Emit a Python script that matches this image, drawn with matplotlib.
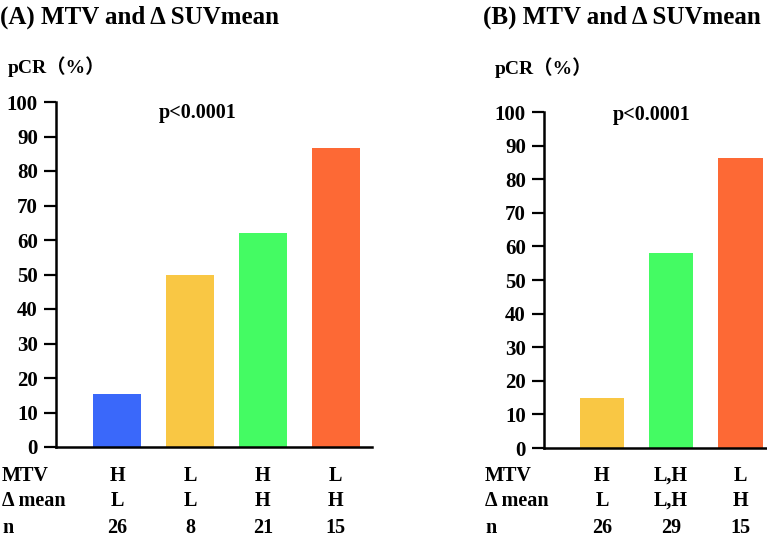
import matplotlib
matplotlib.use("Agg")
import matplotlib.pyplot as plt
import matplotlib.transforms as mtransforms

plt.rcParams['font.family'] = ['Liberation Serif', 'DejaVu Serif']
plt.rcParams['font.weight'] = 'bold'

# Panel A data
a_values = [15.4, 50.0, 61.9, 86.7]
a_colors = ['#3A68FA', '#F9C744', '#44FB63', '#FD6935']
a_mtv = ['H', 'L', 'H', 'L']
a_delta = ['L', 'L', 'H', 'H']
a_n = ['26', '8', '21', '15']

# Panel B data
b_values = [15.0, 58.0, 86.2]
b_colors = ['#F9C744', '#44FB63', '#FD6935']
b_mtv = ['H', 'L,H', 'L']
b_delta = ['L', 'L,H', 'H']
b_n = ['26', '29', '15']

yticks = [0, 10, 20, 30, 40, 50, 60, 70, 80, 90, 100]
row_labels = ['MTV', '\u0394 mean', 'n']

W, H = 767, 540
fig = plt.figure(figsize=(W / 100, H / 100), dpi=100)


def px_axes(x0, x1, y_top, y_bot):
    return fig.add_axes([x0 / W, 1 - y_bot / H, (x1 - x0) / W, (y_bot - y_top) / H])


def draw_panel(ax, values, colors, mtv, delta, n, xlim, width, title, title_x,
               pcr_x, pcr_y, p_x, p_y, row_x):
    xs = list(range(len(values)))
    ax.bar(xs, values, width=width, color=colors, edgecolor='none')
    ax.set_xlim(*xlim)
    ax.set_ylim(0, 100)
    ax.set_yticks(yticks)
    ax.set_yticklabels([str(v) for v in yticks], fontsize=15, fontweight='bold')
    ax.set_xticks([])
    for s in ['top', 'right']:
        ax.spines[s].set_visible(False)
    for s in ['left', 'bottom']:
        ax.spines[s].set_linewidth(1.8)
    ax.tick_params(axis='y', direction='out', length=9, width=1.6, pad=4)
    trans = mtransforms.blended_transform_factory(ax.transData, fig.transFigure)
    rows_y = [1 - 476 / H, 1 - 501 / H, 1 - 528 / H]
    for i, x in enumerate(xs):
        for ry, lab in zip(rows_y, [mtv[i], delta[i], n[i]]):
            ax.text(x, ry, lab, transform=trans, ha='center', va='center',
                    fontsize=14.5, fontweight='bold')
    for ry, lab in zip(rows_y, row_labels):
        fig.text(row_x / W, ry, lab, ha='left', va='center', fontsize=14.5,
                 fontweight='bold')
    fig.text(title_x / W, 1 - 17 / H, title, ha='left', va='center',
             fontsize=18, fontweight='bold')
    fig.text(pcr_x / W, 1 - pcr_y / H, 'pCR\uff08%\uff09', ha='left', va='center',
             fontsize=14, fontweight='bold',
             family=['Liberation Serif', 'Noto Sans CJK SC', 'DejaVu Serif'])
    fig.text(p_x / W, 1 - p_y / H, 'p<0.0001', ha='left', va='center',
             fontsize=14.5, fontweight='bold')


axA = px_axes(56, 372, 102, 447)
draw_panel(axA, a_values, a_colors, a_mtv, a_delta, a_n,
           (-0.84, 3.5), 0.66, '(A) MTV and \u0394 SUVmean', 0,
           8, 67, 159, 113, 2)

axB = px_axes(544, 767, 112, 448)
draw_panel(axB, b_values, b_colors, b_mtv, b_delta, b_n,
           (-0.84, 2.39), 0.65, '(B) MTV and \u0394 SUVmean', 483,
           495, 68, 613, 115, 485)

fig.savefig('out.png', dpi=100)
